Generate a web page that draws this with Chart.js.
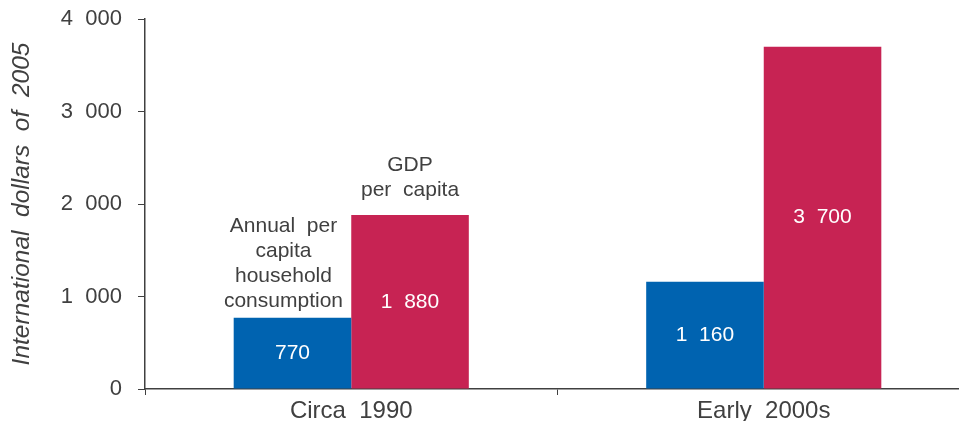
<!DOCTYPE html>
<html>
<head>
<meta charset="utf-8">
<script src="https://cdn.jsdelivr.net/npm/chart.js@4"></script>
<style>
  html, body { margin: 0; padding: 0; background: #fff; overflow: hidden; }
  #wrap { width: 970px; height: 421px; }
</style>
</head>
<body>
<div id="wrap"><canvas id="incomeChart"></canvas></div>
<script>
let periods = ['Circa  1990', 'Early  2000s'];
let consumption = [770, 1160];
let gdpPerCapita = [1880, 3700];
let yTicks = [0, 1000, 2000, 3000, 4000];
let seriesNames = [['Annual  per', 'capita', 'household', 'consumption'], ['GDP', 'per  capita']];
let colorHex = ['#0063b0', '#c72353'];
let fontFamily = '"Liberation Sans", Arial, sans-serif';

// 1880 -> "1  880"
let fmt = (v) => {
    let s = String(v);
    return s.length > 3 ? s.slice(0, -3) + '  ' + s.slice(-3) : s;
};

// the name boxes sit a little off the bar centres in the original
let nameShiftX = [-9, 0];
let nameGap = [17, 25];

let barLabels = {
    id: 'barLabels',
    afterDatasetsDraw(chart) {
        let c = chart.ctx;
        c.save();
        c.font = '21px ' + fontFamily;
        c.textAlign = 'center';
        c.textBaseline = 'middle';
        chart.data.datasets.forEach((ds, i) => {
            chart.getDatasetMeta(i).data.forEach((bar, j) => {
                c.fillStyle = '#fff';
                c.fillText(fmt(ds.data[j]), bar.x, (bar.y + bar.base) / 2);
                // series names only over the first group
                if (j === 0) {
                    let lines = seriesNames[i];
                    c.fillStyle = '#404040';
                    lines.forEach((t, k) => {
                        c.fillText(t, bar.x + nameShiftX[i], bar.y - nameGap[i] - (lines.length - 1 - k) * 25);
                    });
                }
            });
        });
        c.restore();
    }
};

let ctx = document.getElementById('incomeChart').getContext('2d');
let incomeChart = new Chart(ctx, {
    type: 'bar',
    data: {
        labels: periods,
        datasets: [{
            label: 'Annual per capita household consumption',
            data: consumption,
            backgroundColor: colorHex[0]
        }, {
            label: 'GDP per capita',
            data: gdpPerCapita,
            backgroundColor: colorHex[1]
        }]
    },
    options: {
        responsive: true,
        maintainAspectRatio: false,
        animation: false,
        categoryPercentage: 0.57,
        barPercentage: 1,
        layout: { padding: { top: 19, right: 0, left: 0, bottom: 0 } },
        plugins: {
            legend: { display: false },
            tooltip: { enabled: false }
        },
        scales: {
            x: {
                afterFit: (scale) => {
                    scale.height = 32;
                    scale.paddingLeft = 0;
                    scale.paddingRight = 0;
                },
                grid: {
                    drawOnChartArea: false,
                    color: '#404040',
                    tickLength: 6
                },
                border: { color: '#404040', width: 1.5 },
                ticks: {
                    color: '#404040',
                    font: { family: fontFamily, size: 24, lineHeight: 1 },
                    padding: 4
                }
            },
            y: {
                min: 0,
                max: 4000,
                afterBuildTicks: (scale) => {
                    scale.ticks = yTicks.map((v) => ({ value: v }));
                },
                afterFit: (scale) => {
                    scale.width = 145;
                    scale.paddingTop = 0;
                    scale.paddingBottom = 0;
                },
                grid: {
                    drawOnChartArea: false,
                    color: '#404040',
                    tickLength: 7
                },
                border: { color: '#404040', width: 1.5 },
                ticks: {
                    color: '#404040',
                    font: { family: fontFamily, size: 22 },
                    padding: 16,
                    callback: (v) => fmt(v)
                },
                title: {
                    display: true,
                    text: 'International  dollars  of  2005',
                    color: '#404040',
                    font: { family: fontFamily, size: 24.5, style: 'italic' },
                    padding: { top: 7, bottom: 10 }
                }
            }
        }
    },
    plugins: [barLabels]
});
</script>
</body>
</html>
